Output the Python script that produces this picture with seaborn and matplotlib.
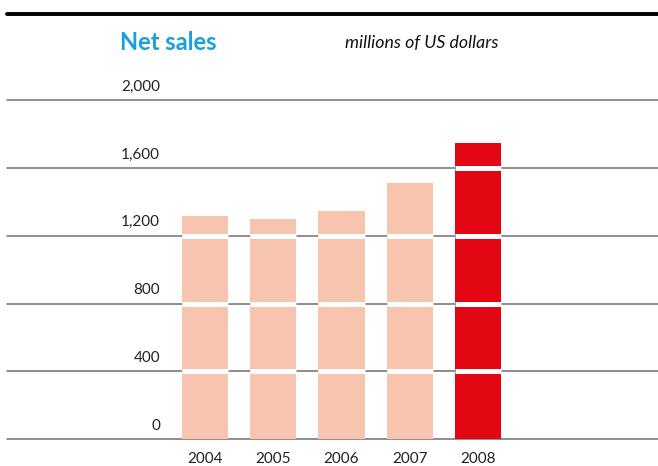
import matplotlib
matplotlib.use("Agg")
import matplotlib.pyplot as plt
import seaborn as sns
import pandas as pd
from matplotlib.lines import Line2D

years = ["2004", "2005", "2006", "2007", "2008"]
net_sales = [1317, 1300, 1347, 1513, 1744]
bar_colors = ["#F7C4B0", "#F7C4B0", "#F7C4B0", "#F7C4B0", "#E30613"]
y_ticks = [0, 400, 800, 1200, 1600, 2000]
y_tick_labels = ["0", "400", "800", "1,200", "1,600", "2,000"]
title = "Net sales"
unit_label = "millions of US dollars"

sns.set_style("white")
plt.rcParams["font.family"] = ["Lato", "DejaVu Sans"]

W, H = 658, 466
fig = plt.figure(figsize=(W / 100, H / 100), dpi=100)
ax = fig.add_axes([7 / W, (H - 439.3) / H, 651 / W, (439.3 - 100) / H])

df = pd.DataFrame({"year": years, "sales": net_sales})
sns.barplot(data=df, x="year", y="sales", hue="year", palette=bar_colors,
            width=0.676, legend=False, ax=ax, saturation=1, zorder=2,
            linewidth=0, edgecolor="none")

ax.set_ylim(0, 2000)
ax.set_xlim(-2.901, 6.637)
for s in ax.spines.values():
    s.set_visible(False)

for t in y_ticks:
    ax.axhline(t, color="#6f6f6f", lw=1.1, zorder=1, clip_on=False)

for p in ax.patches:
    x0, w, h = p.get_x(), p.get_width(), p.get_height()
    for t in y_ticks:
        if 0 < t < h:
            ax.hlines(t, x0, x0 + w, color="white", lw=3.6, zorder=3)

ax.set_yticks([])
ax.set_ylabel("")
ax.set_xlabel("")
ax.tick_params(axis="x", length=0, pad=9.5, labelsize=11, labelcolor="#222222")

for t, lab in zip(y_ticks, y_tick_labels):
    ax.annotate(lab, xy=(-0.659, t), xytext=(0, 6.8), textcoords="offset points",
                ha="right", va="baseline", fontsize=11, color="#222222",
                annotation_clip=False)

fig.add_artist(Line2D([7 / W, 1], [1 - 13.8 / H, 1 - 13.8 / H], color="black",
                      lw=2.8, transform=fig.transFigure))
fig.text(120 / W, 1 - 42 / H, title, color="#1A9FE0", fontsize=17,
         fontweight="bold", ha="left", va="center")
fig.text(345 / W, 1 - 43 / H, unit_label, color="#111111", fontsize=12.8,
         style="italic", ha="left", va="center")

fig.savefig("out.png", dpi=100)
